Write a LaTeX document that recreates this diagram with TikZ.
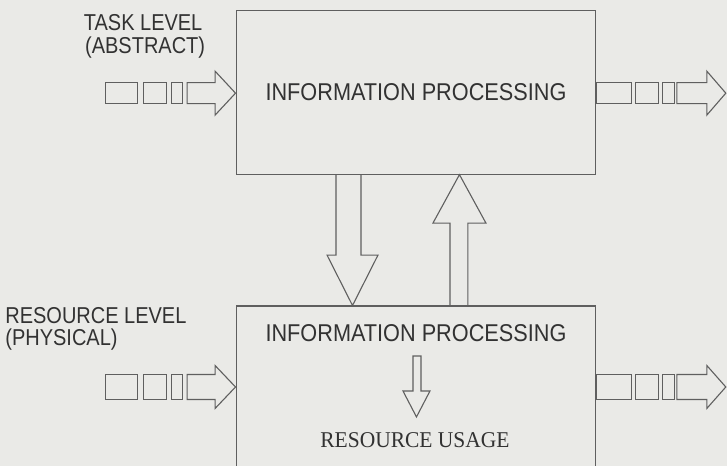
\documentclass[tikz,border=0pt]{standalone}
\usepackage{fontspec}
\setmainfont{Liberation Sans}
\newfontfamily\serifface{Liberation Serif}
\definecolor{pagegray}{RGB}{234,234,231}
\definecolor{inkgray}{RGB}{95,95,95}
\definecolor{textgray}{RGB}{50,50,50}
\tikzset{
  levelbox/.style={draw=inkgray, line width=1.1pt, minimum width=360pt, inner sep=0pt},
  hollow/.style={draw=inkgray, line width=1.1pt},
  caption/.style={text=textgray, font=\fontsize{20}{22}\selectfont, inner sep=0pt},
  proc/.style={text=textgray, font=\fontsize{21.7}{24}\selectfont, inner sep=0pt}
}
\begin{document}
\begin{tikzpicture}[scale=1.000000,x=1pt,y=1pt]
\filldraw[color=pagegray] (0.000000, 0.000000) rectangle (727.000000, 465.000000);
\useasboundingbox (0.000000, 0.000000) rectangle (727.000000, 465.000000);
% Drawing level boxes
% Line 1: task level box
\node[levelbox, minimum height=164pt] (taskbox) at (416.000000, 373.000000) {};
% Line 2: resource level box
\node[levelbox, minimum height=170pt] (resbox) at (416.000000, 74.000000) {};
% Done with boxes; drawing labels
\node[caption] (tasklbl) at (143.000000, 443.000000) {\scalebox{1}[1.15]{TASK LEVEL}};
\node[caption] (tasksub) at (145.000000, 418.000000) {\scalebox{1}[1.15]{(ABSTRACT)}};
\node[caption, anchor=west] (reslbl) at (5.000000, 149.000000) {\scalebox{1}[1.15]{RESOURCE LEVEL}};
\node[caption, anchor=west] (ressub) at (5.000000, 125.000000) {\scalebox{1}[1.15]{(PHYSICAL)}};
\node[proc] (taskproc) at (taskbox.center) {\scalebox{1}[1.12]{INFORMATION PROCESSING}};
\node[proc] (resproc) at (416.000000, 132.000000) {\scalebox{1}[1.12]{INFORMATION PROCESSING}};
\node[proc, font=\serifface\fontsize{21.5}{24}\selectfont] (resuse) at (415.000000, 25.000000) {\scalebox{1}[1.05]{RESOURCE USAGE}};
% Done with labels; drawing arrows between levels
% Line 3: down arrow
\draw[hollow] (336.000000,0 |- taskbox.south) -- (336.000000, 210.000000) -- (327.000000, 210.000000) -- (352.500000,0 |- resbox.north) -- (378.000000, 210.000000) -- (361.000000, 210.000000) -- (361.000000,0 |- taskbox.south);
% Line 4: up arrow
\draw[hollow] (450.000000,0 |- resbox.north) -- (450.000000, 242.000000) -- (433.000000, 242.000000) -- (459.500000,0 |- taskbox.south) -- (486.000000, 242.000000) -- (468.000000, 242.000000) -- (468.000000,0 |- resbox.north);
% Line 5: usage arrow
\draw[hollow] (413.000000, 109.000000) -- (413.000000, 74.000000) -- (403.000000, 74.000000) -- (416.500000, 48.000000) -- (430.000000, 74.000000) -- (421.000000, 74.000000) -- (421.000000, 109.000000) -- cycle;
% Done with level arrows; drawing input and output streams
% Line 6: task input
\draw[hollow] (105.000000, 361.500000) rectangle (137.000000, 382.500000);
\draw[hollow] (143.000000, 361.500000) rectangle (166.000000, 382.500000);
\draw[hollow] (171.000000, 361.500000) rectangle (182.000000, 382.500000);
\draw[hollow] (187.000000, 361.500000) -- (215.000000, 361.500000) -- (215.000000, 350.000000) -- (taskbox.west |- 0,372.000000) -- (215.000000, 394.000000) -- (215.000000, 382.500000) -- (187.000000, 382.500000) -- cycle;
% Line 7: task output
\draw[hollow] (taskbox.east |- 0,361.500000) rectangle (632.000000, 382.500000);
\draw[hollow] (636.000000, 361.500000) rectangle (659.000000, 382.500000);
\draw[hollow] (663.000000, 361.500000) rectangle (675.000000, 382.500000);
\draw[hollow] (677.000000, 361.500000) -- (707.000000, 361.500000) -- (707.000000, 350.000000) -- (726.000000, 372.000000) -- (707.000000, 394.000000) -- (707.000000, 382.500000) -- (677.000000, 382.500000) -- cycle;
% Line 8: resource input
\draw[hollow] (105.000000, 65.500000) rectangle (137.000000, 90.500000);
\draw[hollow] (143.000000, 65.500000) rectangle (166.000000, 90.500000);
\draw[hollow] (171.000000, 65.500000) rectangle (182.000000, 90.500000);
\draw[hollow] (187.000000, 65.500000) -- (215.000000, 65.500000) -- (215.000000, 56.500000) -- (resbox.west |- 0,78.000000) -- (215.000000, 99.500000) -- (215.000000, 90.500000) -- (187.000000, 90.500000) -- cycle;
% Line 9: resource output
\draw[hollow] (resbox.east |- 0,65.500000) rectangle (632.000000, 90.500000);
\draw[hollow] (636.000000, 65.500000) rectangle (659.000000, 90.500000);
\draw[hollow] (663.000000, 65.500000) rectangle (675.000000, 90.500000);
\draw[hollow] (677.000000, 65.500000) -- (707.000000, 65.500000) -- (707.000000, 56.500000) -- (726.000000, 78.000000) -- (707.000000, 99.500000) -- (707.000000, 90.500000) -- (677.000000, 90.500000) -- cycle;
% Done with streams
\end{tikzpicture}
\end{document}
